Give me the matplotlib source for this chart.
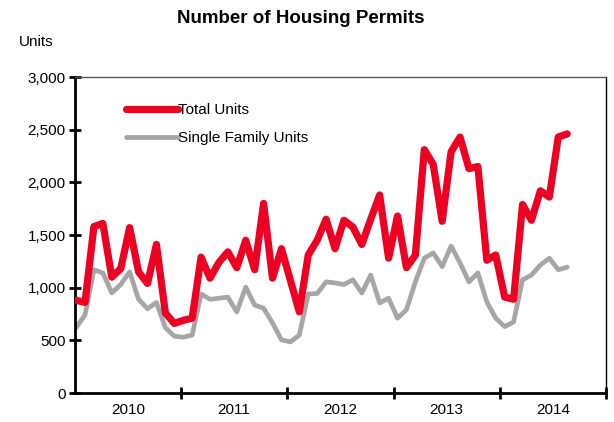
import numpy as np
import matplotlib
matplotlib.use('Agg')
import matplotlib.pyplot as plt
from matplotlib.ticker import FuncFormatter

plt.rcParams['font.family'] = ['Liberation Sans', 'DejaVu Sans']

# monthly housing permits
total_units = [880, 860, 1580, 1610, 1100, 1180, 1570, 1150, 1040, 1410,
               760, 660, 690, 710, 1290, 1090, 1240, 1340, 1190, 1450,
               1170, 1800, 1090, 1370, 1070, 770, 1310, 1450, 1650, 1370,
               1640, 1575, 1410, 1650, 1880, 1280, 1680, 1190, 1310, 2310,
               2170, 1630, 2290, 2430, 2130, 2150, 1260, 1310, 910, 890,
               1790, 1640, 1920, 1860, 2430, 2460]
single_family = [620, 740, 1170, 1140, 950, 1030, 1150, 890, 800, 860,
                 620, 540, 530, 550, 940, 890, 900, 910, 770, 1005,
                 835, 805, 665, 505, 485, 550, 940, 945, 1055, 1045,
                 1030, 1075, 950, 1120, 855, 900, 710, 790, 1055, 1280,
                 1330, 1200, 1395, 1235, 1055, 1140, 865, 710, 630, 675,
                 1075, 1120, 1215, 1280, 1170, 1195]
years = ['2010', '2011', '2012', '2013', '2014']

x = np.arange(len(total_units))
start = -0.15
year_len = 11.9
bounds = start + year_len * np.arange(len(years) + 1)

fig = plt.figure(figsize=(6.14, 4.22), dpi=100)
ax = fig.add_axes([0.1217, 0.0687, 0.8653, 0.7488])

ax.plot(x, single_family, color='#a6a6a6', lw=3.4, solid_capstyle='round',
        solid_joinstyle='round', label='Single Family Units', zorder=2)
ax.plot(x, total_units, color='#ee0022', lw=5.2, solid_capstyle='round',
        solid_joinstyle='round', label='Total Units', zorder=3)

ax.set_xlim(bounds[0], bounds[-1])
ax.set_ylim(0, 3000)
ax.set_yticks(np.arange(0, 3001, 500))
ax.yaxis.set_major_formatter(FuncFormatter(lambda v, p: f'{int(v):,}'))

ax.set_xticks(bounds[1:])
ax.set_xticklabels([])
ax.set_xticks((bounds[:-1] + bounds[1:]) / 2, minor=True)
ax.set_xticklabels(years, minor=True)
ax.tick_params(axis='x', which='minor', length=0, pad=7, labelsize=11)
ax.tick_params(axis='x', which='major', direction='inout', length=9, width=2)
ax.tick_params(axis='y', direction='inout', length=9, width=2, labelsize=11, pad=2)

for side in ['left', 'bottom']:
    ax.spines[side].set_linewidth(2)
for side in ['top', 'right']:
    ax.spines[side].set_linewidth(1)
ax.spines['top'].set_color('#555555')

h, l = ax.get_legend_handles_labels()
leg = ax.legend(h[::-1], l[::-1], loc='upper left', bbox_to_anchor=(0.07, 0.96),
                frameon=False, fontsize=11, handlelength=3.4, handletextpad=0.0,
                labelspacing=0.9)

fig.text(0.49, 0.955, 'Number of Housing Permits', ha='center', va='center',
         fontsize=13.5, fontweight='bold')
fig.text(0.03, 0.9, 'Units', ha='left', va='center', fontsize=11)

fig.savefig('out.png', dpi=100)
